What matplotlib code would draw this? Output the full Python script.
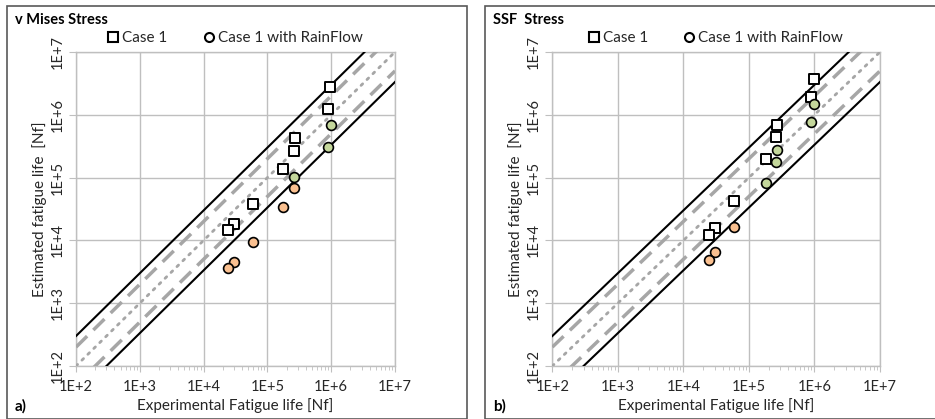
import matplotlib
matplotlib.use("Agg")
import matplotlib.pyplot as plt
from matplotlib.lines import Line2D
from matplotlib.patches import Rectangle
import numpy as np

plt.rcParams['font.family'] = ['Lato', 'DejaVu Sans']

# ---------------- data ----------------
panel_titles = ["v Mises Stress", "SSF  Stress"]
panel_tags = ["a)", "b)"]

# Panel a) v Mises
vm_case1_exp = [9.6e5, 8.8e5, 2.7e5, 2.6e5, 1.75e5, 5.9e4, 3.0e4, 2.45e4]
vm_case1_est = [2.75e6, 1.22e6, 4.2e5, 2.7e5, 1.35e5, 3.8e4, 1.8e4, 1.45e4]
vm_rf_green_exp = [1.0e6, 9.0e5, 2.65e5]
vm_rf_green_est = [6.9e5, 3.1e5, 1.03e5]
vm_rf_orange_exp = [2.6e5, 1.75e5, 5.9e4, 3.0e4, 2.45e4]
vm_rf_orange_est = [6.8e4, 3.4e4, 9.3e3, 4.5e3, 3.6e3]

# Panel b) SSF
ssf_case1_exp = [1.0e6, 8.9e5, 2.7e5, 2.6e5, 1.8e5, 5.9e4, 3.0e4, 2.5e4]
ssf_case1_est = [3.7e6, 1.9e6, 7.0e5, 4.5e5, 2.0e5, 4.2e4, 1.6e4, 1.2e4]
ssf_rf_green_exp = [1.0e6, 8.9e5, 2.7e5, 2.6e5, 1.8e5]
ssf_rf_green_est = [1.47e6, 7.6e5, 2.8e5, 1.8e5, 8.2e4]
ssf_rf_orange_exp = [5.9e4, 3.0e4, 2.5e4]
ssf_rf_orange_est = [1.66e4, 6.5e3, 4.8e3]

band_factors_solid = [3.0, 1 / 3.0]
band_factors_dashed = [2.0, 0.5]
band_factor_dotted = [1.0]
tick_values = [1e2, 1e3, 1e4, 1e5, 1e6, 1e7]
tick_labels = ["1E+2", "1E+3", "1E+4", "1E+5", "1E+6", "1E+7"]

GREEN = "#C4D79B"
ORANGE = "#FAC090"
GRID = "#BFBFBF"
TXT = "#262626"

W, H = 935, 419
fig = plt.figure(figsize=(W / 100, H / 100), dpi=100)

def fx(px):
    return px / W

def fy(py):
    return 1 - py / H

# panel frames
for x0, x1 in [(7, 467), (485, 960)]:
    fig.patches.append(Rectangle((fx(x0), fy(418.5)), fx(x1 - x0), (418.5 - 6) / H,
                                 transform=fig.transFigure, fill=False,
                                 edgecolor="#595959", linewidth=1.2, zorder=0))

panels = [
    dict(ax=(76, 395), c1=(vm_case1_exp, vm_case1_est), g=(vm_rf_green_exp, vm_rf_green_est),
         o=(vm_rf_orange_exp, vm_rf_orange_est), x0=7),
    dict(ax=(552.3, 880), c1=(ssf_case1_exp, ssf_case1_est), g=(ssf_rf_green_exp, ssf_rf_green_est),
         o=(ssf_rf_orange_exp, ssf_rf_orange_est), x0=485),
]

ytop, ybot = 52, 366
xline = np.array([1e2, 1e7])

for i, p in enumerate(panels):
    axl, axr = p["ax"]
    ax = fig.add_axes([fx(axl), fy(ybot), fx(axr - axl), (ybot - ytop) / H])
    ax.set_xscale("log")
    ax.set_yscale("log")
    ax.set_xlim(1e2, 1e7)
    ax.set_ylim(1e2, 1e7)
    ax.set_xticks(tick_values)
    ax.set_xticklabels(tick_labels)
    ax.set_yticks(tick_values)
    ax.set_yticklabels(tick_labels, rotation=90, va="center")
    ax.tick_params(axis="x", which="major", length=4, color=GRID, labelsize=10.5,
                   labelcolor=TXT, pad=6)
    ax.tick_params(axis="y", which="major", length=5, color=GRID, labelsize=10.5,
                   labelcolor=TXT, pad=3)
    ax.tick_params(axis="x", which="minor", length=3, color=GRID)
    ax.tick_params(axis="y", which="minor", length=0)
    ax.grid(True, which="major", color=GRID, linewidth=1.0)
    for s in ax.spines.values():
        s.set_color(GRID)
        s.set_linewidth(1.0)

    for f in band_factors_solid:
        ax.plot(xline, xline * f, color="black", lw=1.5, zorder=3)
    for f in band_factors_dashed:
        ax.plot(xline, xline * f, color="#A6A6A6", lw=2.5, ls=(0, (4.5, 2.5)), zorder=3)
    for f in band_factor_dotted:
        ax.plot(xline, xline * f, color="#A6A6A6", lw=2.0, ls=(0, (0.8, 2.2)),
                dash_capstyle="round", zorder=3)

    ax.scatter(p["c1"][0], p["c1"][1], marker="s", s=48, facecolor="white",
               edgecolor="black", linewidth=1.4, zorder=5)
    ax.scatter(p["g"][0], p["g"][1], marker="o", s=50, facecolor=GREEN,
               edgecolor="black", linewidth=1.2, zorder=5)
    ax.scatter(p["o"][0], p["o"][1], marker="o", s=50, facecolor=ORANGE,
               edgecolor="black", linewidth=1.2, zorder=5)

    ax.set_xlabel("Experimental Fatigue life [Nf]", fontsize=11, color=TXT, labelpad=3)
    ax.set_ylabel("Estimated fatigue life  [Nf]", fontsize=11, color=TXT, labelpad=3)

    x0 = p["x0"]
    fig.text(fx(x0 + 8), fy(20), panel_titles[i], fontsize=10.5, fontweight="bold",
             color="black", va="center", ha="left")
    fig.text(fx(x0 + 8), fy(406), panel_tags[i], fontsize=11, fontweight="bold",
             color="black", va="center", ha="left")

    handles = [
        Line2D([], [], ls="none", marker="s", markersize=6.5, markerfacecolor="white",
               markeredgecolor="black", markeredgewidth=1.5, label="Case 1"),
        Line2D([], [], ls="none", marker="o", markersize=6.5, markerfacecolor="white",
               markeredgecolor="black", markeredgewidth=1.5, label="Case 1 with RainFlow"),
    ]
    ax.legend(handles=handles, ncol=2, frameon=False, loc="center",
              bbox_to_anchor=(0.5, 1 + 14 / (ybot - ytop)), fontsize=11,
              handlelength=0.6, handletextpad=0.3, columnspacing=2.4,
              labelcolor=TXT, borderaxespad=0)

fig.savefig("out.png", dpi=100)
